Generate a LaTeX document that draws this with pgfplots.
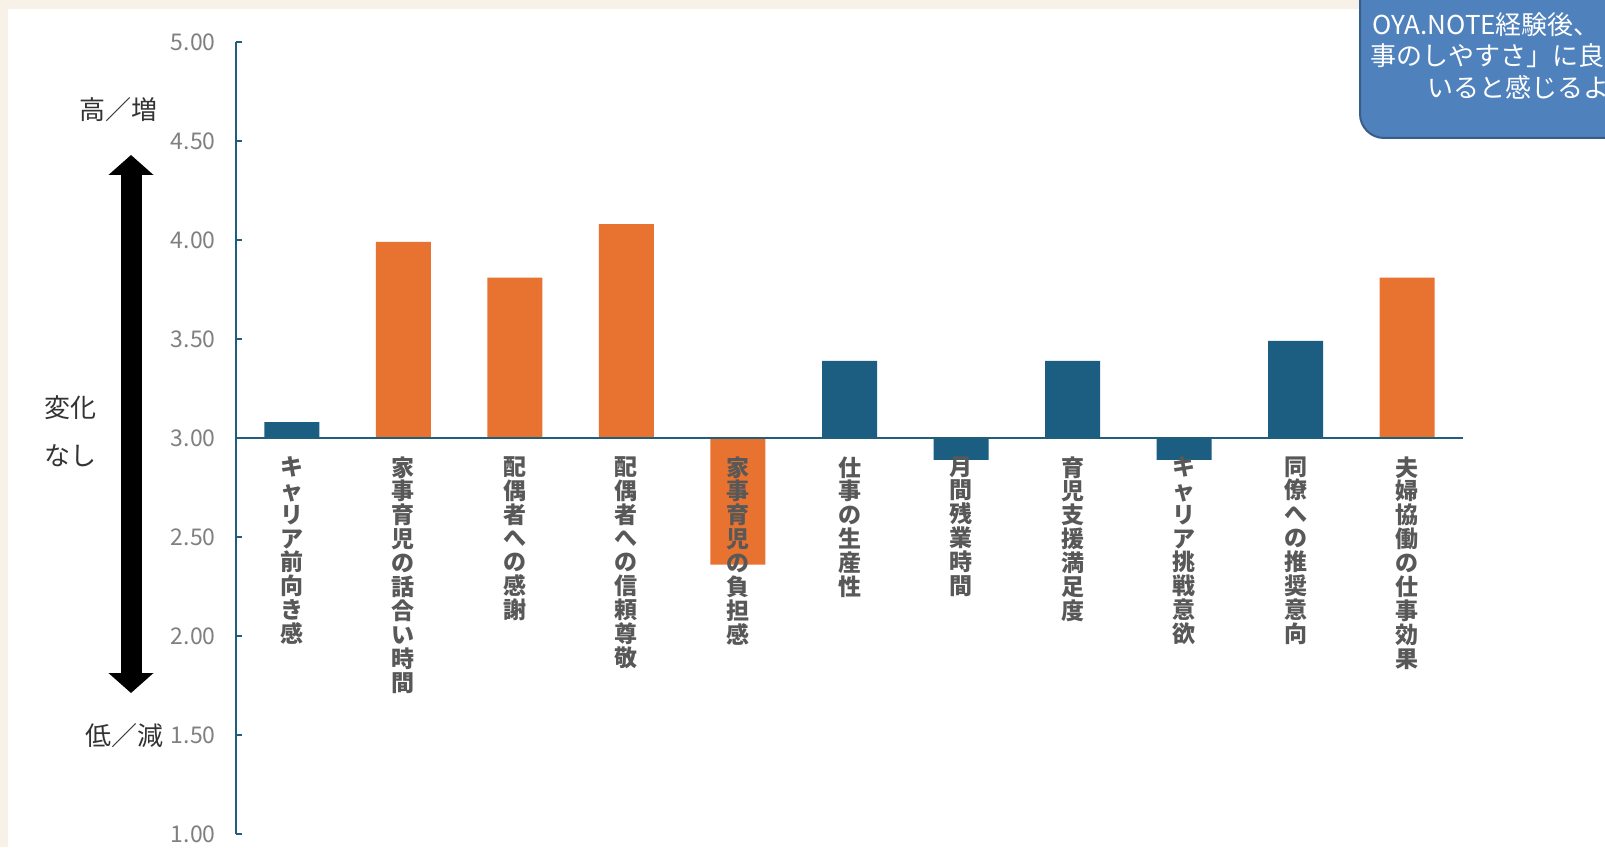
\documentclass[border=0pt]{standalone}
\usepackage{fontspec}
\setmainfont{Noto Sans CJK JP}
\usepackage{pgfplots}
\usepackage{pgfplotstable}
\pgfplotsset{compat=1.18}
\usetikzlibrary{arrows.meta}
\definecolor{barblue}{HTML}{1B5E82}
\definecolor{barorange}{HTML}{E8722F}
\definecolor{axisblue}{HTML}{215E7C}
\definecolor{ticktext}{HTML}{808080}
\definecolor{labeltext}{HTML}{585858}
\definecolor{sidetext}{HTML}{333333}
\definecolor{beige}{HTML}{F8F1E7}
\definecolor{callout}{HTML}{4F81BD}
\definecolor{calloutedge}{HTML}{385D8A}

\pgfplotstableread{
x y
0 3.08
5 3.39
6 2.89
7 3.39
8 2.89
9 3.49
}\bluedata
\pgfplotstableread{
x y
1 3.99
2 3.81
3 4.08
4 2.36
10 3.81
}\orangedata

\newcommand\lab[2]{\node[anchor=north, align=center, inner sep=0pt, yshift=-9pt,
  font=\fontsize{11.5pt}{11.95pt}\selectfont\bfseries, text=labeltext] at (axis cs:#1,3) {#2};}

\begin{document}
\begin{tikzpicture}
\useasboundingbox (0,0) rectangle (802.5pt,423.5pt);
\clip (0,0) rectangle (802.5pt,423.5pt);
\begin{scope}[x=0.5pt,y=-0.5pt,yshift=423.5pt]
\fill[beige] (0,0) rectangle (1605,847);
\fill[white] (8,9) rectangle (1605,847);
\end{scope}

\begin{axis}[at={(118pt,6.5pt)}, anchor=south west, scale only axis,
  width=613.5pt, height=396pt,
  xmin=-0.5, xmax=10.5, ymin=1, ymax=5,
  y coord trafo/.code={\pgfmathparse{#1-3}},
  y coord inv trafo/.code={\pgfmathparse{#1+3}},
  axis x line=none, axis y line*=left,
  axis line style={draw=axisblue, line width=1.1pt},
  ytick={1,1.5,2,2.5,3,3.5,4,4.5,5},
  yticklabels={1.00,1.50,2.00,2.50,3.00,3.50,4.00,4.50,5.00},
  tick align=inside, major tick length=3pt,
  y tick style={draw=axisblue, line width=1pt},
  yticklabel style={font=\fontsize{11.5pt}{13pt}\selectfont, text=ticktext, inner sep=0pt, xshift=-10pt},
  /pgf/number format/assume math mode=true,
  clip=false,
]
\addplot[ybar, bar width=27.5pt, fill=barblue, draw=none] table[x=x,y=y] {\bluedata};
\addplot[ybar, bar width=27.5pt, fill=barorange, draw=none] table[x=x,y=y] {\orangedata};
\draw[axisblue, line width=1.1pt] (axis cs:-0.5,3) -- (axis cs:10.5,3);
\lab{0}{キ\\ャ\\リ\\ア\\前\\向\\き\\感}
\lab{1}{家\\事\\育\\児\\の\\話\\合\\い\\時\\間}
\lab{2}{配\\偶\\者\\へ\\の\\感\\謝}
\lab{3}{配\\偶\\者\\へ\\の\\信\\頼\\尊\\敬}
\lab{4}{家\\事\\育\\児\\の\\負\\担\\感}
\lab{5}{仕\\事\\の\\生\\産\\性}
\lab{6}{月\\間\\残\\業\\時\\間}
\lab{7}{育\\児\\支\\援\\満\\足\\度}
\lab{8}{キ\\ャ\\リ\\ア\\挑\\戦\\意\\欲}
\lab{9}{同\\僚\\へ\\の\\推\\奨\\意\\向}
\lab{10}{夫\\婦\\協\\働\\の\\仕\\事\\効\\果}
\end{axis}

\begin{scope}[x=0.5pt,y=-0.5pt,yshift=423.5pt]
\draw[black, line width=10.5pt, {Triangle[width=22pt,length=10pt]}-{Triangle[width=22pt,length=10pt]}] (131,155) -- (131,693);
\node[text=sidetext, font=\fontsize{13pt}{15pt}\selectfont, inner sep=0pt] at (118,110) {高／増};
\node[text=sidetext, font=\fontsize{13pt}{15pt}\selectfont, inner sep=0pt] at (70,408) {変化};
\node[text=sidetext, font=\fontsize{13pt}{15pt}\selectfont, inner sep=0pt] at (70,456) {なし};
\node[text=sidetext, font=\fontsize{13pt}{15pt}\selectfont, inner sep=0pt] at (124,736) {低／減};
\filldraw[fill=callout, draw=calloutedge, line width=1pt, rounded corners=12pt] (1360,-40) rectangle (1700,138);
\node[text=white, anchor=west, inner sep=0pt, font=\fontsize{13pt}{15pt}\selectfont] at (1372,25) {OYA.NOTE経験後、};
\node[text=white, anchor=west, inner sep=0pt, font=\fontsize{13pt}{15pt}\selectfont] at (1370,56) {事のしやすさ」に良};
\node[text=white, anchor=west, inner sep=0pt, font=\fontsize{13pt}{15pt}\selectfont] at (1427,87) {いると感じるよ};
\end{scope}
\end{tikzpicture}
\end{document}
